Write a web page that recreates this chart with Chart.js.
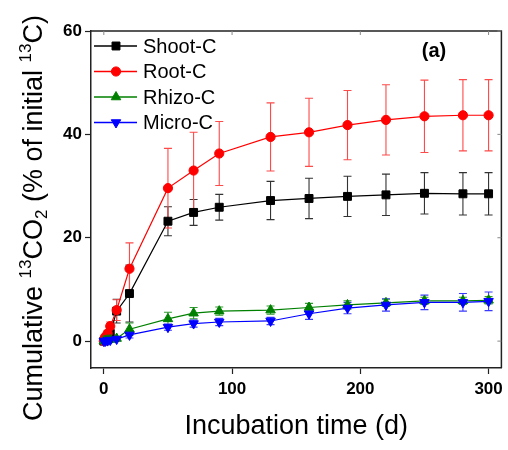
<!DOCTYPE html>
<html>
<head>
<meta charset="utf-8">
<script src="https://cdn.jsdelivr.net/npm/chart.js@4.4.0/dist/chart.umd.min.js"></script>
<style>
  html, body { margin: 0; padding: 0; background: #fff; }
</style>
</head>
<body>
<canvas id="chart" width="508" height="450"></canvas>
<script>
// incubation days and cumulative 13CO2 (% of initial 13C)
const days = [0, 1, 3, 5, 10, 20, 50, 70, 90, 130, 160, 190, 220, 250, 280, 300];

const shootC    = [0, 0.3, 0.8, 1.5, 5.8, 9.2, 23.2, 24.9, 25.9, 27.2, 27.6, 28.0, 28.3, 28.6, 28.5, 28.5];
const shootErr  = [0, 0.2, 0.4, 0.6, 2.3, 5.5, 2.8, 2.5, 2.5, 3.7, 3.9, 3.9, 4.0, 4.0, 4.1, 4.1];

const rootC     = [0, 0.8, 1.5, 2.9, 6.0, 14.0, 29.6, 33.0, 36.3, 39.5, 40.4, 41.8, 42.8, 43.5, 43.7, 43.7];
const rootErr   = [0, 0.3, 0.5, 0.8, 2.0, 5.0, 7.7, 7.4, 6.2, 6.6, 6.6, 6.7, 6.8, 7.0, 6.9, 6.9];

const rhizoC    = [0, 0.1, 0.2, 0.3, 0.5, 2.3, 4.3, 5.4, 5.8, 6.0, 6.5, 7.0, 7.4, 7.8, 7.8, 7.9];
const rhizoErr  = [0, 0.1, 0.2, 0.2, 0.3, 1.2, 1.3, 1.1, 0.8, 0.8, 0.8, 0.8, 0.7, 0.7, 0.7, 0.7];

const microC    = [0, 0, 0.1, 0.2, 0.4, 1.2, 2.7, 3.4, 3.7, 3.9, 5.3, 6.4, 7.0, 7.5, 7.5, 7.7];
const microErr  = [0, 0.1, 0.1, 0.2, 0.3, 0.6, 0.6, 0.7, 0.7, 0.7, 1.1, 1.1, 1.2, 1.4, 1.7, 1.8];

const xTicks = [0, 100, 200, 300];
const yTicks = [0, 20, 40, 60];

const seriesNames = ["Shoot-C", "Root-C", "Rhizo-C", "Micro-C"];

const FONT = "'Liberation Sans', Arial, sans-serif";

function makeSet(label, values, errs, color, barColor, style, radius, rotation, order) {
  return {
    label: label,
    data: days.map((d, i) => ({ x: d, y: values[i] })),
    errors: errs,
    barColor: barColor,
    borderColor: color,
    backgroundColor: color,
    borderWidth: 1.2,
    pointStyle: style,
    pointRadius: radius,
    pointRotation: rotation,
    pointBorderWidth: 1,
    pointBackgroundColor: color,
    pointBorderColor: color,
    tension: 0,
    order: order
  };
}

const datasets = [
  makeSet(seriesNames[0], shootC, shootErr, "#000000", "#333333", "rect", 5.6, 0, 3),
  makeSet(seriesNames[1], rootC, rootErr, "#ff0000", "#ff4a4a", "circle", 4.6, 0, 2),
  makeSet(seriesNames[2], rhizoC, rhizoErr, "#008000", "#2f9a2f", "triangle", 5.5, 0, 1),
  makeSet(seriesNames[3], microC, microErr, "#0000ff", "#3a3aff", "triangle", 5.5, 180, 0)
];

// error bars, drawn through the chart scales
const errorBars = {
  id: "errorBars",
  beforeDatasetsDraw(chart) {
    const { ctx, scales: { x, y } } = chart;
    ctx.save();
    ctx.lineWidth = 1.1;
    chart.data.datasets.forEach(ds => {
      ctx.strokeStyle = ds.barColor;
      ds.data.forEach((p, i) => {
        const e = ds.errors[i];
        if (!e) return;
        const px = x.getPixelForValue(p.x);
        const top = y.getPixelForValue(p.y + e);
        const bot = y.getPixelForValue(p.y - e);
        ctx.beginPath();
        ctx.moveTo(px, top); ctx.lineTo(px, bot);
        ctx.moveTo(px - 4, top); ctx.lineTo(px + 4, top);
        ctx.moveTo(px - 4, bot); ctx.lineTo(px + 4, bot);
        ctx.stroke();
      });
    });
    ctx.restore();
  }
};

// frame, inner ticks, legend, panel label and the y title
const decorations = {
  id: "decorations",
  afterDraw(chart) {
    const { ctx, chartArea: a, scales: { x, y } } = chart;
    ctx.save();

    // top and right frame with small inward ticks
    ctx.strokeStyle = "#222";
    ctx.lineWidth = 1.5;
    ctx.beginPath();
    ctx.moveTo(a.left, a.top); ctx.lineTo(a.right, a.top); ctx.lineTo(a.right, a.bottom);
    ctx.stroke();
    ctx.lineWidth = 1;
    ctx.strokeStyle = "#888";
    ctx.beginPath();
    xTicks.forEach(v => { const px = x.getPixelForValue(v); ctx.moveTo(px, a.top); ctx.lineTo(px, a.top + 4); });
    yTicks.forEach(v => { const py = y.getPixelForValue(v); ctx.moveTo(a.right, py); ctx.lineTo(a.right - 4, py); });
    ctx.stroke();

    // legend
    const rowY = [46, 71.5, 97, 122.5];
    chart.data.datasets.forEach((ds, i) => {
      const yy = rowY[i];
      ctx.strokeStyle = ds.borderColor;
      ctx.lineWidth = 1.4;
      ctx.beginPath();
      ctx.moveTo(a.left + 3, yy); ctx.lineTo(a.left + 46, yy);
      ctx.stroke();
      ctx.fillStyle = ds.borderColor;
      ctx.lineWidth = 1;
      Chart.helpers.drawPoint(ctx, {
        pointStyle: ds.pointStyle, rotation: ds.pointRotation,
        radius: ds.pointRadius, borderWidth: 1
      }, a.left + 25, yy);
      ctx.fillStyle = "#000";
      ctx.font = "20px " + FONT;
      ctx.textAlign = "left";
      ctx.textBaseline = "middle";
      ctx.fillText(ds.label, a.left + 52, yy + 1);
    });

    // panel label
    ctx.font = "bold 20px " + FONT;
    ctx.textAlign = "center";
    ctx.textBaseline = "middle";
    ctx.fillStyle = "#000";
    ctx.fillText("(a)", 434, 51);

    // y title with super/subscripts
    const big = 27, small = 17;
    const parts = [
      { t: "Cumulative ", s: big, dy: 0 },
      { t: "13", s: small, dy: -11 },
      { t: "CO", s: big, dy: 0 },
      { t: "2", s: small, dy: 5 },
      { t: " (% of initial ", s: big, dy: 0 },
      { t: "13", s: small, dy: -11 },
      { t: "C)", s: big, dy: 0 }
    ];
    let total = 0;
    parts.forEach(p => { ctx.font = p.s + "px " + FONT; p.w = ctx.measureText(p.t).width; total += p.w; });
    ctx.translate(42, 218);
    ctx.rotate(-Math.PI / 2);
    ctx.textAlign = "left";
    ctx.textBaseline = "alphabetic";
    let cx = -total / 2;
    parts.forEach(p => {
      ctx.font = p.s + "px " + FONT;
      ctx.fillText(p.t, cx, p.dy);
      cx += p.w;
    });
    ctx.restore();
  }
};

new Chart(document.getElementById("chart"), {
  type: "line",
  data: { datasets: datasets },
  options: {
    responsive: false,
    animation: false,
    devicePixelRatio: 1,
    layout: { padding: { top: 31, right: 6, left: 0, bottom: 0 } },
    plugins: { legend: { display: false }, tooltip: { enabled: false } },
    scales: {
      x: {
        type: "linear",
        min: -10, max: 310,
        afterBuildTicks: s => { s.ticks = xTicks.map(v => ({ value: v })); },
        afterFit: s => { s.height = 82; },
        grid: { drawOnChartArea: false, tickLength: 6, color: "#222", tickWidth: 1.2 },
        border: { color: "#222", width: 1.5 },
        ticks: { color: "#000", padding: 5, maxRotation: 0, font: { family: FONT, size: 17, weight: "bold" } },
        title: { display: true, text: "Incubation time (d)", color: "#000",
                 font: { family: FONT, size: 27 }, padding: { top: 0, bottom: 7 } }
      },
      y: {
        type: "linear",
        min: -5.2, max: 60,
        afterBuildTicks: s => { s.ticks = yTicks.map(v => ({ value: v })); },
        afterFit: s => { s.width = 91; },
        grid: { drawOnChartArea: false, tickLength: 6, color: "#222", tickWidth: 1.2 },
        border: { color: "#222", width: 1.5 },
        ticks: { color: "#000", padding: 3, font: { family: FONT, size: 17, weight: "bold" } }
      }
    }
  },
  plugins: [errorBars, decorations]
});
</script>
</body>
</html>
